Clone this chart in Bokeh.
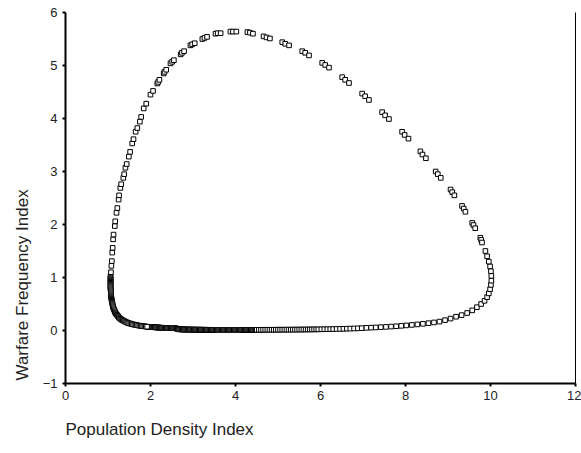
from bokeh.plotting import figure
from bokeh.models import Range1d, FixedTicker, LinearAxis, Title, ColumnDataSource
from bokeh.embed import file_html
from bokeh.resources import INLINE

# ---- data (x = population density, y = warfare frequency) ----
x_ticks = [0, 2, 4, 6, 8, 10, 12]
y_ticks = [-1, 0, 1, 2, 3, 4, 5, 6]

floor_x = [1.94, 1.96, 1.98, 2.00, 2.02, 2.04, 2.06, 2.08, 2.10, 2.12,
           2.14, 2.16, 2.18, 2.20, 2.22, 2.24, 2.26, 2.28, 2.30, 2.32,
           2.34, 2.36, 2.38, 2.40, 2.42, 2.44, 2.46, 2.48, 2.50, 2.52,
           2.54, 2.56, 2.58, 2.60, 2.62, 2.64, 2.66, 2.68, 2.70, 2.72,
           2.74, 2.76, 2.78, 2.80, 2.82, 2.84, 2.86, 2.88, 2.90, 2.92,
           2.94, 2.96, 2.98, 3.00, 3.02, 3.04, 3.06, 3.08, 3.10, 3.12,
           3.14, 3.16, 3.18, 3.20, 3.22, 3.24, 3.26, 3.28, 3.30, 3.32,
           3.34, 3.36, 3.38, 3.40, 3.42, 3.44, 3.46, 3.48, 3.50, 3.52,
           3.54, 3.56, 3.58, 3.60, 3.62, 3.64, 3.66, 3.68, 3.70, 3.72,
           3.74, 3.76, 3.78, 3.80, 3.82, 3.84, 3.86, 3.88, 3.90, 3.92,
           3.94, 3.96, 3.98, 4.00, 4.02, 4.04, 4.06, 4.08, 4.10, 4.12,
           4.14, 4.16, 4.18, 4.20, 4.22, 4.24, 4.26, 4.28, 4.30, 4.32,
           4.34, 4.36, 4.38, 4.40, 4.42, 4.44, 4.46, 4.48]
floor_y = [0.068, 0.067, 0.066, 0.065, 0.064, 0.063, 0.062, 0.061, 0.060, 0.059,
           0.058, 0.057, 0.056, 0.055, 0.054, 0.053, 0.052, 0.052, 0.051, 0.050,
           0.050, 0.049, 0.049, 0.048, 0.048, 0.047, 0.047, 0.046, 0.046, 0.045,
           0.045, 0.044, 0.044, 0.040, 0.034, 0.028, 0.024, 0.022, 0.021, 0.021,
           0.020, 0.020, 0.020, 0.019, 0.019, 0.019, 0.018, 0.018, 0.018, 0.018,
           0.017, 0.017, 0.017, 0.017, 0.016, 0.016, 0.016, 0.016, 0.016, 0.015,
           0.015, 0.015, 0.015, 0.015, 0.015, 0.014, 0.014, 0.014, 0.014, 0.014,
           0.014, 0.014, 0.013, 0.013, 0.013, 0.013, 0.013, 0.013, 0.013, 0.013,
           0.013, 0.012, 0.012, 0.012, 0.012, 0.012, 0.012, 0.012, 0.012, 0.012,
           0.012, 0.012, 0.012, 0.012, 0.012, 0.012, 0.012, 0.012, 0.012, 0.012,
           0.012, 0.012, 0.012, 0.012, 0.012, 0.012, 0.012, 0.012, 0.012, 0.012,
           0.012, 0.013, 0.013, 0.013, 0.013, 0.013, 0.013, 0.013, 0.013, 0.013,
           0.013, 0.013, 0.013, 0.013, 0.013, 0.013, 0.013, 0.013]

mid_x = [4.50, 4.55, 4.60, 4.65, 4.70, 4.75, 4.80, 4.85, 4.90, 4.95,
         5.00, 5.05, 5.10, 5.15, 5.20, 5.25, 5.30, 5.35, 5.40, 5.45,
         5.50, 5.55, 5.60, 5.65, 5.70, 5.75, 5.80, 5.85, 5.90, 5.95]
mid_y = [0.013, 0.013, 0.013, 0.013, 0.014, 0.014, 0.014, 0.014, 0.014, 0.015,
         0.015, 0.015, 0.015, 0.016, 0.016, 0.016, 0.016, 0.017, 0.017, 0.017,
         0.018, 0.018, 0.018, 0.019, 0.019, 0.020, 0.020, 0.021, 0.021, 0.022]

rise_x = [6.02, 6.09, 6.16, 6.23, 6.30, 6.38, 6.46, 6.54, 6.62, 6.70,
          6.79, 6.88, 6.97, 7.08, 7.19, 7.30, 7.42, 7.54, 7.66, 7.78,
          7.90, 8.02, 8.15, 8.28, 8.41, 8.54, 8.67, 8.80, 8.93, 9.06,
          9.19, 9.32, 9.45, 9.57, 9.68, 9.78, 9.86]
rise_y = [0.023, 0.024, 0.025, 0.026, 0.027, 0.029, 0.030, 0.032, 0.034, 0.036,
          0.038, 0.041, 0.044, 0.050, 0.054, 0.058, 0.063, 0.068, 0.074, 0.080,
          0.088, 0.096, 0.105, 0.115, 0.126, 0.138, 0.152, 0.168, 0.195, 0.225,
          0.260, 0.290, 0.330, 0.380, 0.440, 0.500, 0.560]

turn_x = [9.92, 9.96, 9.99, 10.01, 10.02, 10.02, 10.01, 9.99, 9.96, 9.92, 9.88]
turn_y = [0.63, 0.70, 0.78, 0.86, 0.94, 1.03, 1.12, 1.21, 1.30, 1.40, 1.50]

upper_x = [9.76, 9.78, 9.80,  9.57, 9.60, 9.64,  9.33, 9.37, 9.41,
           9.06, 9.10, 9.15,  8.71, 8.76, 8.83,  8.35, 8.40, 8.48,
           7.92, 7.98, 8.07,  7.45, 7.52, 7.61,  6.98, 7.05, 7.14,
           6.51, 6.58, 6.67,  6.04, 6.11, 6.20,  5.57, 5.64, 5.73,
           5.10, 5.17, 5.26,  4.66, 4.73, 4.81,  4.28, 4.34, 4.41,
           3.88, 3.94, 4.02,  3.53, 3.58, 3.65,  3.22, 3.27, 3.33,
           2.94, 2.98, 3.04,  2.71, 2.74, 2.79,  2.47, 2.51, 2.55,
           2.31, 2.33, 2.37,  2.16, 2.18, 2.21,
           2.00, 2.06,  1.84, 1.90,  1.75, 1.78,  1.65, 1.69,
           1.57, 1.60,  1.49, 1.52,  1.41, 1.44,  1.36, 1.38,
           1.29, 1.31,  1.25, 1.26,  1.20, 1.22,  1.16, 1.17,
           1.12, 1.13,  1.10, 1.11,  1.08, 1.09,  1.06, 1.07]
upper_y = [1.75, 1.71, 1.66,  2.03, 1.99, 1.93,  2.35, 2.30, 2.24,
           2.66, 2.61, 2.55,  3.00, 2.95, 2.88,  3.38, 3.32, 3.25,
           3.75, 3.69, 3.62,  4.12, 4.06, 3.99,  4.47, 4.42, 4.35,
           4.78, 4.73, 4.67,  5.05, 5.01, 4.96,  5.27, 5.24, 5.19,
           5.44, 5.41, 5.38,  5.55, 5.53, 5.51,  5.63, 5.62, 5.60,
           5.64, 5.64, 5.64,  5.60, 5.61, 5.61,  5.50, 5.52, 5.54,
           5.38, 5.40, 5.42,  5.21, 5.24, 5.27,  5.04, 5.07, 5.10,
           4.85, 4.88, 4.92,  4.66, 4.69, 4.73,
           4.45, 4.52,  4.19, 4.28,  3.94, 4.03,  3.75, 3.82,
           3.53, 3.61,  3.28, 3.37,  3.07, 3.14,  2.88, 2.95,
           2.69, 2.76,  2.47, 2.55,  2.22, 2.31,  1.97, 2.06,
           1.72, 1.81,  1.47, 1.56,  1.22, 1.31,  1.03, 1.10]

corner_x = [1.06, 1.06, 1.06, 1.06, 1.06, 1.06, 1.06, 1.06, 1.06, 1.06,
            1.06, 1.06, 1.065, 1.07, 1.07, 1.07, 1.07, 1.07, 1.075, 1.08,
            1.08, 1.085, 1.09, 1.095, 1.10, 1.105, 1.11, 1.115, 1.12, 1.13,
            1.14, 1.15, 1.16, 1.17, 1.18, 1.195, 1.21, 1.225, 1.24, 1.255,
            1.27, 1.29, 1.31, 1.33, 1.35, 1.375, 1.40, 1.425, 1.45, 1.475,
            1.50, 1.53, 1.56, 1.59, 1.62, 1.65, 1.68, 1.71, 1.74, 1.77,
            1.80, 1.83, 1.86, 1.89, 1.92]
corner_y = [1.00, 0.98, 0.96, 0.94, 0.92, 0.90, 0.88, 0.86, 0.84, 0.82,
            0.80, 0.78, 0.76, 0.74, 0.72, 0.70, 0.68, 0.66, 0.64, 0.62,
            0.60, 0.58, 0.56, 0.54, 0.52, 0.50, 0.48, 0.46, 0.44, 0.42,
            0.40, 0.38, 0.36, 0.34, 0.325, 0.31, 0.295, 0.28, 0.265, 0.25,
            0.235, 0.22, 0.21, 0.20, 0.19, 0.18, 0.17, 0.16, 0.15, 0.14,
            0.135, 0.13, 0.12, 0.115, 0.11, 0.105, 0.10, 0.095, 0.09, 0.087,
            0.084, 0.081, 0.078, 0.075, 0.072]

x_label = "Population Density Index"
y_label = "Warfare Frequency Index"

# ---- build ----
xs = floor_x + mid_x + rise_x + turn_x + upper_x + corner_x
ys = floor_y + mid_y + rise_y + turn_y + upper_y + corner_y
src = ColumnDataSource(data=dict(x=xs, y=ys))

FONT = "Liberation Sans"

p = figure(width=581, height=453, output_backend="svg", toolbar_location=None,
           x_range=Range1d(0, 12), y_range=Range1d(-1, 6),
           min_border_left=65, min_border_right=6, min_border_top=12,
           min_border_bottom=68)
p.outline_line_color = None
p.grid.visible = False
p.background_fill_color = "white"
p.border_fill_color = "white"

p.scatter("x", "y", source=src, marker="square", size=4.6,
          fill_color="white", line_color="black", line_width=1)

for ax, ticks in ((p.xaxis[0], x_ticks), (p.yaxis[0], y_ticks)):
    ax.ticker = FixedTicker(ticks=ticks)
    ax.minor_tick_line_color = None
    ax.major_tick_in = 0
    ax.major_tick_out = 3
    ax.major_tick_line_width = 2
    ax.major_tick_line_color = "black"
    ax.axis_line_width = 2
    ax.axis_line_color = "black"
    ax.major_label_text_font = FONT
    ax.major_label_text_font_size = "13px"
    ax.major_label_text_color = "#222222"

p.xaxis[0].major_label_standoff = 4
p.yaxis[0].major_label_standoff = 5

right = LinearAxis(ticker=FixedTicker(ticks=[]), major_label_text_font_size="0px",
                   major_tick_out=0, major_tick_in=0, minor_tick_out=0, minor_tick_in=0,
                   axis_line_width=1, axis_line_color="black")
p.add_layout(right, "right")

xt = Title(text=x_label, align="left", text_font=FONT, text_font_size="17px",
           text_font_style="normal", text_color="#222222", offset=0, standoff=30)
p.add_layout(xt, "below")
yt = Title(text=y_label, align="left", text_font=FONT, text_font_size="17px",
           text_font_style="normal", text_color="#222222", offset=3, standoff=16)
p.add_layout(yt, "left")

open("out.html", "w").write(file_html(p, INLINE))
